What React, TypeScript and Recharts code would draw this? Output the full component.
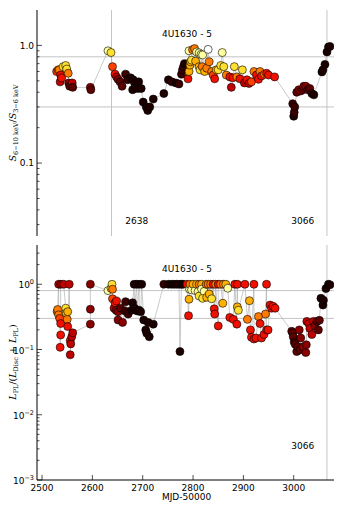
import React from "react";
import { ScatterChart, Scatter, XAxis, YAxis, ReferenceLine, ReferenceDot } from "recharts";

// hot colour map, black -> red -> yellow -> white
const HEAT = [
  "#1c0000", "#3a0000", "#5c0000", "#8a0000", "#c00000", "#f01000",
  "#ff4000", "#ff7a00", "#ffb000", "#ffe030", "#ffffa0", "#ffffff",
];

const MJD_TICKS = [2500, 2600, 2700, 2800, 2900, 3000];

// top panel: S(6-10 keV) / S(3-6 keV)
const topMjd = [
  2529, 2532, 2534, 2536, 2537, 2539, 2542, 2547, 2549, 2552,
  2553, 2555, 2560, 2561, 2596, 2597, 2631, 2637, 2640, 2645,
  2648, 2651, 2655, 2659, 2666, 2670, 2676, 2680, 2681, 2684,
  2688, 2690, 2692, 2697, 2701, 2707, 2710, 2714, 2721, 2742,
  2751, 2758, 2766, 2772, 2777, 2779, 2781, 2783, 2790, 2792,
  2792, 2794, 2795, 2797, 2799, 2803, 2805, 2807, 2812, 2812,
  2814, 2816, 2818, 2819, 2823, 2827, 2830, 2832, 2837, 2840,
  2843, 2846, 2850, 2855, 2858, 2861, 2866, 2873, 2876, 2879,
  2882, 2887, 2893, 2898, 2902, 2907, 2911, 2916, 2921, 2926,
  2930, 2933, 2936, 2942, 2946, 2950, 2962, 2998, 3000, 3001,
  3002, 3006, 3010, 3014, 3018, 3020, 3024, 3028, 3032, 3036,
  3040, 3056, 3058, 3062, 3066, 3069, 3072,
];
const topRatio = [
  0.60, 0.62, 0.62, 0.49, 0.56, 0.53, 0.66, 0.675, 0.63, 0.58,
  0.48, 0.45, 0.48, 0.44, 0.44, 0.42, 0.90, 0.87, 0.66, 0.57,
  0.54, 0.515, 0.49, 0.45, 0.57, 0.51, 0.53, 0.42, 0.51, 0.475,
  0.44, 0.43, 0.49, 0.43, 0.33, 0.30, 0.28, 0.30, 0.35, 0.39,
  0.51, 0.49, 0.48, 0.47, 0.57, 0.62, 0.66, 0.70, 0.52, 0.60,
  0.90, 0.68, 0.725, 0.75, 0.92, 0.94, 0.735, 0.88, 0.865, 0.66,
  0.62, 0.84, 0.66, 0.83, 0.60, 0.64, 0.925, 0.725, 0.60, 0.56,
  0.52, 0.62, 0.62, 0.675, 0.87, 0.66, 0.56, 0.54, 0.44, 0.53,
  0.66, 0.54, 0.52, 0.62, 0.48, 0.51, 0.475, 0.49, 0.60, 0.56,
  0.515, 0.60, 0.55, 0.57, 0.58, 0.56, 0.54, 0.32, 0.25, 0.27,
  0.30, 0.40, 0.42, 0.41, 0.42, 0.45, 0.45, 0.42, 0.43, 0.39,
  0.38, 0.595, 0.62, 0.69, 0.88, 0.97, 0.98,
];
const topHeat = [
  6, 7, 7, 4, 5, 5, 9, 9, 9, 7,
  3, 2, 4, 2, 3, 2, 10, 9, 6, 5,
  4, 3, 2, 2, 1, 1, 0, 0, 0, 0,
  0, 0, 0, 0, 0, 0, 0, 0, 0, 0,
  0, 1, 0, 1, 1, 1, 1, 0, 5, 8,
  10, 8, 8, 9, 7, 7, 8, 10, 10, 8,
  9, 10, 7, 10, 8, 7, 11, 7, 7, 6,
  5, 8, 9, 9, 10, 9, 7, 5, 4, 5,
  9, 7, 5, 9, 4, 5, 4, 6, 7, 5,
  5, 7, 5, 7, 5, 5, 5, 1, 0, 1,
  1, 2, 3, 3, 2, 3, 3, 2, 2, 1,
  0, 0, 0, 0, 0, 0, 0,
];

// bottom panel: L_PL / (L_Disc + L_PL)
const botMjd = [
  2530, 2531, 2533, 2533, 2535, 2536, 2537, 2537, 2537, 2543,
  2547, 2548, 2550, 2551, 2551, 2554, 2556, 2556, 2557, 2559,
  2561, 2596, 2596, 2596, 2631, 2637, 2639, 2640, 2640, 2643,
  2645, 2647, 2648, 2651, 2651, 2656, 2660, 2665, 2666, 2671,
  2678, 2680, 2683, 2684, 2688, 2689, 2693, 2693, 2696, 2698,
  2702, 2706, 2708, 2711, 2713, 2721, 2742, 2751, 2757, 2762,
  2767, 2772, 2774, 2777, 2780, 2788, 2791, 2792, 2793, 2794,
  2797, 2800, 2804, 2807, 2810, 2812, 2812, 2817, 2817, 2819,
  2822, 2826, 2827, 2830, 2832, 2835, 2837, 2840, 2842, 2843,
  2845, 2850, 2850, 2855, 2859, 2860, 2865, 2869, 2873, 2880,
  2883, 2887, 2888, 2888, 2890, 2903, 2908, 2912, 2914, 2916,
  2921, 2921, 2925, 2930, 2933, 2936, 2941, 2944, 2946, 2946,
  2949, 2953, 2956, 2959, 2963, 2996, 2998, 2999, 3001, 3003,
  3006, 3008, 3011, 3012, 3014, 3019, 3024, 3025, 3026, 3030,
  3032, 3036, 3039, 3042, 3046, 3049, 3051, 3054, 3058, 3059,
  3064, 3069, 3072,
];
const botFrac = [
  0.38, 0.41, 1.0, 0.34, 0.30, 0.108, 0.167, 0.25, 1.0, 1.0,
  0.43, 0.36, 0.29, 0.38, 0.225, 1.0, 0.137, 0.083, 0.122, 0.157,
  0.18, 0.245, 0.415, 1.0, 0.80, 0.87, 1.0, 0.84, 0.60, 0.43,
  0.52, 0.40, 0.555, 0.38, 0.284, 0.43, 0.26, 0.39, 0.54, 0.35,
  0.40, 0.52, 1.0, 0.43, 1.0, 0.39, 1.0, 0.40, 0.38, 1.0,
  0.284, 0.20, 0.177, 0.26, 0.157, 0.245, 1.0, 1.0, 1.0, 1.0,
  1.0, 1.0, 0.093, 1.0, 1.0, 1.0, 0.33, 0.59, 0.84, 1.0,
  0.82, 1.0, 0.80, 1.0, 0.77, 1.0, 0.66, 1.0, 0.84, 0.61,
  0.78, 1.0, 0.63, 1.0, 0.71, 1.0, 0.60, 1.0, 0.42, 0.35,
  1.0, 0.23, 1.0, 1.0, 0.51, 1.0, 1.0, 0.87, 0.31, 0.29,
  1.0, 0.245, 1.0, 0.45, 0.40, 1.0, 0.29, 0.56, 0.20, 0.154,
  1.0, 0.145, 0.15, 0.32, 0.25, 0.15, 0.17, 0.35, 1.0, 0.20,
  0.20, 0.48, 0.43, 0.46, 0.43, 0.19, 0.18, 0.157, 0.13, 0.12,
  0.093, 0.11, 0.20, 0.098, 0.15, 0.11, 0.09, 0.118, 0.27, 0.25,
  0.21, 0.17, 0.27, 0.23, 0.27, 0.20, 0.28, 0.61, 0.48, 0.57,
  0.86, 1.0, 0.98,
];
const botHeat = [
  7, 7, 4, 7, 6, 5, 5, 5, 3, 4,
  9, 8, 7, 8, 5, 4, 5, 4, 4, 4,
  4, 3, 3, 3, 10, 9, 9, 7, 6, 4,
  5, 3, 5, 3, 3, 2, 3, 1, 1, 1,
  0, 0, 0, 0, 0, 0, 0, 0, 0, 0,
  0, 0, 0, 0, 0, 0, 1, 0, 0, 0,
  0, 0, 0, 0, 0, 5, 5, 8, 10, 7,
  10, 8, 10, 8, 10, 7, 9, 8, 10, 9,
  10, 7, 8, 7, 8, 7, 9, 5, 5, 5,
  7, 5, 5, 7, 8, 7, 8, 10, 5, 5,
  5, 5, 5, 8, 9, 5, 7, 8, 5, 5,
  5, 5, 5, 7, 5, 5, 5, 7, 5, 5,
  5, 5, 5, 5, 5, 2, 2, 2, 1, 2,
  2, 2, 3, 2, 3, 3, 3, 3, 4, 4,
  4, 4, 4, 3, 2, 2, 2, 0, 0, 0,
  0, 0, 0,
];

const topData = topMjd.map((mjd, i) => ({ mjd, v: topRatio[i], heat: topHeat[i] }));
const botData = botMjd.map((mjd, i) => ({ mjd, v: botFrac[i], heat: botHeat[i] }));

const logTicks = (lo: number, hi: number) => {
  const out: number[] = [];
  for (let e = -4; e <= 1; e++) {
    for (let m = 1; m <= 9; m++) {
      const v = +(m * Math.pow(10, e)).toPrecision(6);
      if (v >= lo && v <= hi) out.push(v);
    }
  }
  return out;
};
const TOP_DOMAIN = [0.024, 2];
const BOT_DOMAIN = [0.001, 4];
const TOP_TICKS = logTicks(0.024, 1.99);
const BOT_TICKS = logTicks(0.001, 3.99);

const FONT = "DejaVu Sans";
const isDecade = (v: number) => Math.abs(Math.log10(v) - Math.round(Math.log10(v))) < 1e-6;

const topLabel = (v: number, x: number, y: number) => (
  <text x={x} y={y + 3.2} textAnchor="end" fontSize={9} fontFamily={FONT} fill="#000">
    {v >= 1 ? "1.0" : "0.1"}
  </text>
);
const powLabel = (v: number, x: number, y: number) => {
  const e = Math.round(Math.log10(v));
  return (
    <text x={x} y={y + 4} textAnchor="end" fontSize={9} fontFamily={FONT} fill="#000">
      10<tspan dy={-4} fontSize={6.5}>{e < 0 ? "\u2212" + -e : String(e)}</tspan>
    </text>
  );
};

const yTick = (side: "l" | "r", fmt?: (v: number, x: number, y: number) => React.ReactNode) => (p: any) => {
  const v = p.payload.value;
  const major = isDecade(v);
  const len = major ? 5 : 2.5;
  const dir = side === "l" ? 1 : -1;
  return (
    <g>
      <line x1={p.x} x2={p.x + dir * len} y1={p.y} y2={p.y} stroke="#000" strokeWidth={0.7} />
      {major && fmt ? fmt(v, p.x - 3, p.y) : null}
    </g>
  );
};

const xTick = (side: "b" | "t", labels: boolean) => (p: any) => {
  const dir = side === "b" ? -1 : 1;
  return (
    <g>
      <line x1={p.x} x2={p.x} y1={p.y} y2={p.y + dir * 5} stroke="#000" strokeWidth={0.7} />
      {labels ? (
        <text x={p.x} y={p.y + 10.5} textAnchor="middle" fontSize={9} fontFamily={FONT} fill="#000">
          {p.payload.value}
        </text>
      ) : null}
    </g>
  );
};

const dot = (p: any) => (
  <circle cx={p.cx} cy={p.cy} r={4} fill={HEAT[p.payload.heat]} stroke="#000" strokeWidth={0.6} />
);

const note = (txt: string) => (p: any) => (
  <text x={p.cx} y={p.cy} textAnchor="middle" dominantBaseline="central" fontSize={9} fontFamily={FONT} fill="#000">
    {txt}
  </text>
);

const GRID = "#c4c4c4";

function Panel(props: {
  data: any[];
  domain: number[];
  ticks: number[];
  fmt: (v: number, x: number, y: number) => React.ReactNode;
  height: number;
  margin: any;
  xLabels: boolean;
  xHeight: number;
  children?: React.ReactNode;
}) {
  const { data, domain, ticks, fmt, height, margin, xLabels, xHeight } = props;
  return (
    <ScatterChart width={341} height={height} margin={margin}>
      <XAxis xAxisId="b" dataKey="mjd" type="number" domain={[2490, 3080]} allowDataOverflow
        ticks={MJD_TICKS} interval={0} tickSize={0} tickMargin={0} height={xHeight}
        axisLine={{ stroke: "#000", strokeWidth: 1 }} tickLine={false} tick={xTick("b", xLabels)} />
      <XAxis xAxisId="t" orientation="top" type="number" domain={[2490, 3080]} allowDataOverflow
        ticks={MJD_TICKS} interval={0} tickSize={0} tickMargin={0} height={0}
        axisLine={{ stroke: "#000", strokeWidth: 1 }} tickLine={false} tick={xTick("t", false)} />
      <YAxis yAxisId="l" dataKey="v" type="number" scale="log" domain={domain} allowDataOverflow
        ticks={ticks} interval={0} tickSize={0} tickMargin={0} width={37}
        axisLine={{ stroke: "#000", strokeWidth: 1 }} tickLine={false} tick={yTick("l", fmt)} />
      <YAxis yAxisId="r" orientation="right" type="number" scale="log" domain={domain} allowDataOverflow
        ticks={ticks} interval={0} tickSize={0} tickMargin={0} width={0}
        axisLine={{ stroke: "#000", strokeWidth: 1 }} tickLine={false} tick={yTick("r")} />
      <ReferenceLine xAxisId="b" yAxisId="l" y={0.8} stroke={GRID} strokeWidth={1} />
      <ReferenceLine xAxisId="b" yAxisId="l" y={0.3} stroke={GRID} strokeWidth={1} />
      {props.children}
      <Scatter xAxisId="b" yAxisId="l" data={data} isAnimationActive={false}
        line={{ stroke: "#a8a8a8", strokeWidth: 0.6 }} lineType="joint" shape={dot} />
    </ScatterChart>
  );
}

export default function App() {
  return (
    <div style={{ position: "absolute", left: 0, top: 0, width: 341, height: 511, background: "#fff" }}>
      <div style={{ position: "absolute", left: 0, top: 0 }}>
        <Panel data={topData} domain={TOP_DOMAIN} ticks={TOP_TICKS} fmt={topLabel} height={240}
          margin={{ top: 10, right: 7, bottom: 4, left: 0 }} xLabels={false} xHeight={0}>
          <ReferenceLine xAxisId="b" yAxisId="l" x={2638} stroke={GRID} strokeWidth={1} />
          <ReferenceLine xAxisId="b" yAxisId="l" x={3066} stroke={GRID} strokeWidth={1} />
          <ReferenceDot xAxisId="b" yAxisId="l" x={2788} y={1.25} r={0} shape={note("4U1630 - 5")} />
          <ReferenceDot xAxisId="b" yAxisId="l" x={2688} y={0.032} r={0} shape={note("2638")} />
          <ReferenceDot xAxisId="b" yAxisId="l" x={3018} y={0.032} r={0} shape={note("3066")} />
        </Panel>
      </div>
      <div style={{ position: "absolute", left: 0, top: 240 }}>
        <Panel data={botData} domain={BOT_DOMAIN} ticks={BOT_TICKS} fmt={powLabel} height={271}
          margin={{ top: 5, right: 7, bottom: 0, left: 0 }} xLabels={true} xHeight={31}>
          <ReferenceLine xAxisId="b" yAxisId="l" x={3066} stroke={GRID} strokeWidth={1} />
          <ReferenceDot xAxisId="b" yAxisId="l" x={2788} y={1.71} r={0} shape={note("4U1630 - 5")} />
          <ReferenceDot xAxisId="b" yAxisId="l" x={3018} y={0.00334} r={0} shape={note("3066")} />
        </Panel>
      </div>
      <svg width={341} height={511} style={{ position: "absolute", left: 0, top: 0, pointerEvents: "none" }}>
        <text transform="translate(16,123) rotate(-90)" textAnchor="middle" fontSize={9.5} fontFamily="DejaVu Serif" fill="#000">
          <tspan fontStyle="italic">S</tspan>
          <tspan fontSize={6.5} dy={2}>6{"\u2212"}10 keV</tspan>
          <tspan dy={-2}>/</tspan>
          <tspan fontStyle="italic">S</tspan>
          <tspan fontSize={6.5} dy={2}>3{"\u2212"}6 keV</tspan>
        </text>
        <text transform="translate(16,362) rotate(-90)" textAnchor="middle" fontSize={9.5} fontFamily="DejaVu Serif" fill="#000">
          <tspan fontStyle="italic">L</tspan>
          <tspan fontSize={6.5} dy={2}>PL</tspan>
          <tspan dy={-2}>/(</tspan>
          <tspan fontStyle="italic">L</tspan>
          <tspan fontSize={6.5} dy={2}>Disc</tspan>
          <tspan dy={-2}> + </tspan>
          <tspan fontStyle="italic">L</tspan>
          <tspan fontSize={6.5} dy={2}>PL</tspan>
          <tspan dy={-2}>)</tspan>
        </text>
        <text x={186.5} y={499.5} textAnchor="middle" fontSize={9} fontFamily={FONT} fill="#000">
          MJD-50000
        </text>
      </svg>
    </div>
  );
}
